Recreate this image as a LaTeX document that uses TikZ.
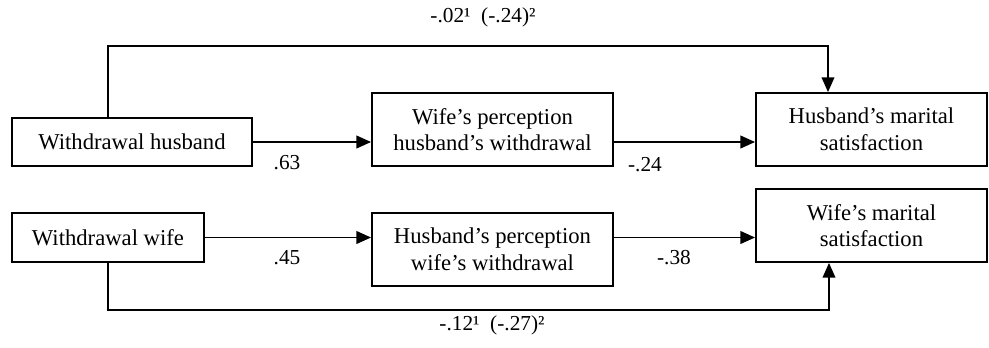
\documentclass[tikz,border=0pt]{standalone}
\usepackage{fontspec}
\setmainfont{Liberation Serif}
\usetikzlibrary{arrows.meta,calc}
\begin{document}
\begin{tikzpicture}[x=0.75pt,y=-0.75pt,
  box/.style={draw,line width=1.4pt,rectangle,align=center,inner sep=1pt,
    font=\fontsize{17}{20}\selectfont},
  arr/.style={line width=1.4pt,-{Triangle[length=11pt,width=9.5pt]}},
  loop/.style={line width=1.1pt,-{Triangle[length=11pt,width=9.5pt]}},
  lbl/.style={font=\fontsize{16}{18}\selectfont,inner sep=0pt}]
\useasboundingbox (0,0) rectangle (989,347);
\node[box,minimum width=180pt,minimum height=36pt] (b1) at (132,142) {Withdrawal husband};
\node[box,minimum width=180.75pt,minimum height=54.75pt] (b2) at (492.5,129.5) {Wife’s perception\\husband’s withdrawal};
\node[box,minimum width=173.25pt,minimum height=54.75pt] (b3) at (871.5,129.5) {Husband’s marital\\satisfaction};
\node[box,minimum width=144pt,minimum height=36.75pt] (b4) at (108,237.5) {Withdrawal wife};
\node[box,minimum width=180.75pt,minimum height=54.75pt] (b5) at (492.5,249.5) {Husband’s perception\\wife’s withdrawal};
\node[box,minimum width=173.25pt,minimum height=54.75pt] (b6) at (871.5,225.5) {Wife’s marital\\satisfaction};
\coordinate (t1) at (108,46);
\coordinate (t2) at (828,46);
\coordinate (u1) at (108,310);
\coordinate (u2) at (829,310);
\draw[arr] (b1.east) -- (b1.east -| b2.west);
\draw[arr] (b2.east |- b1.east) -- (b3.west |- b1.east);
\draw[arr] (b4.east) -- (b4.east -| b5.west);
\draw[arr] (b5.east |- b4.east) -- (b6.west |- b4.east);
\draw[loop] (b1.north -| t1) -- (t1) -- (t2) -- (t2 |- b3.north);
\draw[loop] (b4.south) -- (u1) -- (u2) -- (u2 |- b6.south);
\node[lbl] (l1) at (483,17) {-.02¹\ \ (-.24)²};
\node[lbl] (l2) at (287,163) {.63};
\node[lbl] (l3) at (645,165) {-.24};
\node[lbl] (l4) at (287,258) {.45};
\node[lbl] (l5) at (674,258) {-.38};
\node[lbl] (l6) at (492,325) {-.12¹\ \ (-.27)²};
\end{tikzpicture}
\end{document}
